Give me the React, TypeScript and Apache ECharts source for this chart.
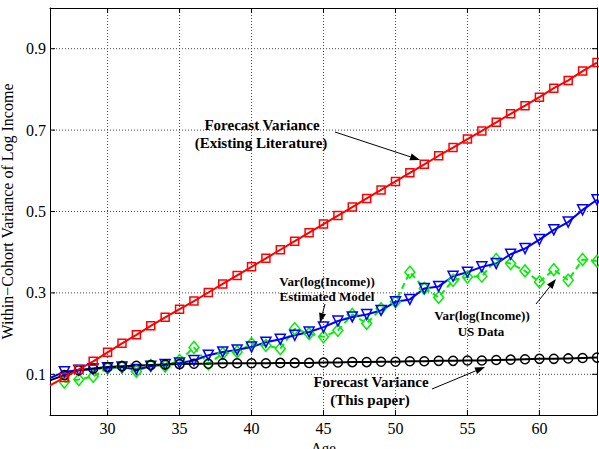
import React, { useEffect, useRef } from "react";
import * as echarts from "echarts";

const ages = [26, 27, 28, 29, 30, 31, 32, 33, 34, 35, 36, 37, 38, 39, 40, 41, 42, 43, 44, 45, 46, 47, 48, 49, 50, 51, 52, 53, 54, 55, 56, 57, 58, 59, 60, 61, 62, 63, 64];

const existingLit = [0.073, 0.092, 0.112, 0.132, 0.154, 0.176, 0.197, 0.219, 0.240, 0.260, 0.280, 0.301, 0.322, 0.343, 0.364, 0.385, 0.406, 0.427, 0.448, 0.469, 0.490, 0.511, 0.532, 0.553, 0.574, 0.595, 0.616, 0.637, 0.657, 0.678, 0.698, 0.719, 0.740, 0.760, 0.781, 0.803, 0.822, 0.845, 0.866];

const thisPaper = [0.085, 0.098, 0.110, 0.114, 0.118, 0.120, 0.121, 0.123, 0.124, 0.125, 0.126, 0.126, 0.127, 0.127, 0.127, 0.127, 0.128, 0.128, 0.128, 0.129, 0.129, 0.130, 0.130, 0.131, 0.131, 0.132, 0.132, 0.133, 0.133, 0.134, 0.134, 0.135, 0.136, 0.137, 0.138, 0.138, 0.139, 0.140, 0.141];

const estModel = [0.091, 0.106, 0.110, 0.113, 0.116, 0.118, 0.112, 0.120, 0.124, 0.128, 0.134, 0.147, 0.155, 0.160, 0.167, 0.179, 0.186, 0.196, 0.204, 0.216, 0.231, 0.241, 0.247, 0.257, 0.278, 0.284, 0.311, 0.316, 0.341, 0.351, 0.364, 0.372, 0.395, 0.409, 0.431, 0.455, 0.474, 0.504, 0.529];

const usData = [null, 0.081, 0.087, 0.095, 0.115, 0.118, 0.107, 0.122, 0.120, 0.134, 0.166, 0.126, 0.151, 0.155, 0.175, 0.171, 0.163, 0.212, 0.200, 0.192, 0.208, 0.247, 0.225, 0.261, 0.278, 0.351, 0.311, 0.289, 0.331, 0.339, 0.341, 0.382, 0.372, 0.354, 0.327, 0.357, 0.331, 0.382, 0.378];

const xTicks = [30, 35, 40, 45, 50, 55, 60];
const yTicks = [0.1, 0.3, 0.5, 0.7, 0.9];

const X_MIN = 26, X_MAX = 64, Y_MIN = 0, Y_MAX = 1;

const FONT = "'Liberation Serif', 'Times New Roman', serif";

const GRID = { left: 50, right: 2, top: 8, bottom: 34 };
const W = 599, H = 449;

function toData(vals: (number | null)[]) {
  const out: any[] = [];
  ages.forEach((a, i) => {
    const v = vals[i];
    if (v === null) return;
    if (a === 26) out.push({ value: [a, v], symbol: "none" });
    else out.push([a, v]);
  });
  return out;
}

function arrow(x1: number, y1: number, x2: number, y2: number) {
  const ang = Math.atan2(y2 - y1, x2 - x1);
  const L = 10, Wd = 3.5;
  const c = Math.cos(ang), s = Math.sin(ang);
  const bx = x2 - L * c, by = y2 - L * s;
  return [
    { type: "line", z: 100, shape: { x1, y1, x2: bx, y2: by }, style: { stroke: "#000", lineWidth: 1 } },
    {
      type: "polygon",
      z: 100,
      shape: { points: [[x2, y2], [bx + Wd * s, by - Wd * c], [bx - Wd * s, by + Wd * c]] },
      style: { fill: "#000" },
    },
  ];
}

function label(text: string, x: number, y: number, size: number) {
  return {
    type: "text",
    z: 100,
    x,
    y,
    style: {
      text,
      fontFamily: FONT,
      fontWeight: "bold",
      fontSize: size,
      fill: "#000",
      align: "center",
      verticalAlign: "middle",
    },
  };
}

function segSeries(points: number[][], dotted: boolean) {
  return {
    type: "line",
    data: points,
    symbol: "none",
    silent: true,
    clip: false,
    z: dotted ? 1 : 8,
    lineStyle: dotted
      ? { color: "#444", width: 1, type: [1, 2] }
      : { color: "#000", width: 1, type: "solid" },
    emphasis: { disabled: true },
  };
}

export default function App() {
  const ref = useRef<HTMLDivElement>(null);
  useEffect(() => {
    document.body.style.margin = "0";
    if (!ref.current) return;
    const chart = echarts.init(ref.current, null, { renderer: "svg" });
    const axisLine = { show: true, onZero: false, lineStyle: { color: "#000", width: 1 } };

    // tick length of 5px expressed in data units of each axis
    const plotW = W - GRID.left - GRID.right;
    const plotH = H - GRID.top - GRID.bottom;
    const tx = (5 * (X_MAX - X_MIN)) / plotW;
    const ty = (5 * (Y_MAX - Y_MIN)) / plotH;

    const gridSeries: any[] = [];
    xTicks.forEach((v) => {
      gridSeries.push(segSeries([[v, Y_MIN], [v, Y_MAX]], true));
      gridSeries.push(segSeries([[v, Y_MIN], [v, Y_MIN + ty]], false));
      gridSeries.push(segSeries([[v, Y_MAX], [v, Y_MAX - ty]], false));
    });
    yTicks.forEach((v) => {
      gridSeries.push(segSeries([[X_MIN, v], [X_MAX, v]], true));
      gridSeries.push(segSeries([[X_MIN, v], [X_MIN + tx, v]], false));
      gridSeries.push(segSeries([[X_MAX, v], [X_MAX - tx, v]], false));
    });

    const series = [
      { name: "US Data", vals: usData, color: "#00ee00", symbol: "diamond", size: [10, 12], dashed: true },
      { name: "Estimated Model", vals: estModel, color: "#0000ff", symbol: "triangle", size: 10, rotate: 180 },
      { name: "This paper", vals: thisPaper, color: "#000000", symbol: "circle", size: 9 },
      { name: "Existing Literature", vals: existingLit, color: "#ff0000", symbol: "rect", size: 8 },
    ].map((s: any) => ({
      type: "line",
      name: s.name,
      z: 5,
      data: toData(s.vals),
      symbol: s.symbol,
      symbolSize: s.size,
      symbolRotate: s.rotate || 0,
      showAllSymbol: true,
      clip: true,
      lineStyle: { color: s.color, width: 2, type: s.dashed ? [6, 4] : "solid" },
      itemStyle: { color: "rgba(0,0,0,0)", borderColor: s.color, borderWidth: 1.5 },
      emphasis: { disabled: true },
    }));

    chart.setOption({
      animation: false,
      grid: { ...GRID, outerBoundsMode: "none", containLabel: false },
      xAxis: [
        {
          type: "value",
          min: X_MIN,
          max: X_MAX,
          name: "Age",
          nameLocation: "middle",
          nameGap: 18,
          nameTextStyle: { fontFamily: FONT, fontSize: 15, color: "#000" },
          axisLine,
          axisTick: { show: false },
          axisLabel: { customValues: xTicks, fontFamily: FONT, fontSize: 16, color: "#000", margin: 5 },
          splitLine: { show: false },
        },
        {
          type: "value",
          position: "top",
          min: X_MIN,
          max: X_MAX,
          axisLine,
          axisTick: { show: false },
          axisLabel: { show: false },
          splitLine: { show: false },
        },
      ],
      yAxis: [
        {
          type: "value",
          min: Y_MIN,
          max: Y_MAX,
          name: "Within−Cohort Variance of Log Income",
          nameLocation: "middle",
          nameGap: 28,
          nameTextStyle: { fontFamily: FONT, fontSize: 16, color: "#000" },
          axisLine,
          axisTick: { show: false },
          axisLabel: { customValues: yTicks, fontFamily: FONT, fontSize: 16, color: "#000", margin: 4 },
          splitLine: { show: false },
        },
        {
          type: "value",
          position: "right",
          min: Y_MIN,
          max: Y_MAX,
          axisLine,
          axisTick: { show: false },
          axisLabel: { show: false },
          splitLine: { show: false },
        },
      ],
      series: [...gridSeries, ...series],
      graphic: [
        label("Forecast Variance", 262, 125, 15),
        label("(Existing Literature)", 261, 143, 15),
        ...arrow(335, 132, 420, 160),
        label("Var(log(Income))", 327, 281, 13),
        label("Estimated Model", 327, 296, 13),
        ...arrow(325, 304, 320, 323),
        label("Var(log(Income))", 482, 315, 13),
        label("US Data", 481, 331, 13),
        ...arrow(536, 304, 556, 279),
        label("Forecast Variance", 371, 382, 15),
        label("(This paper)", 370, 400, 15),
        ...arrow(432, 389, 485, 367),
      ],
    });
    return () => chart.dispose();
  }, []);
  return <div ref={ref} style={{ width: W, height: H }} />;
}
